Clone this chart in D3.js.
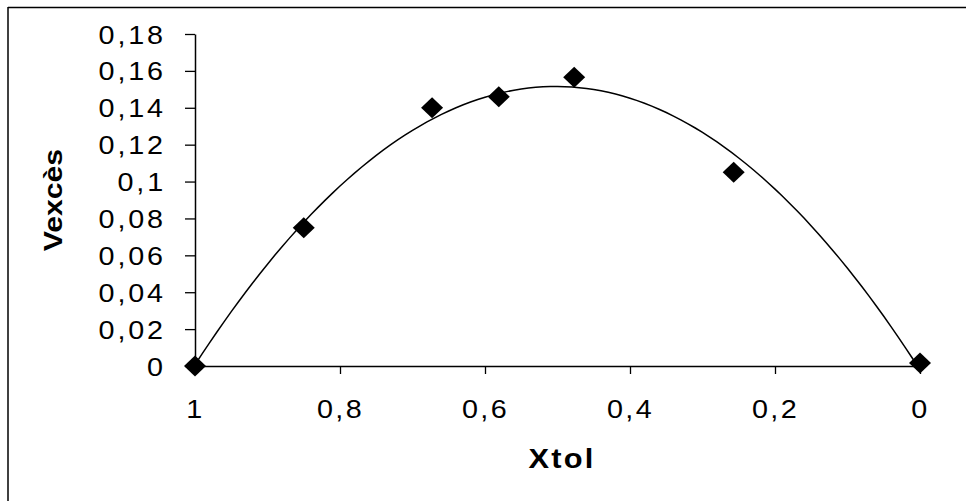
<!DOCTYPE html>
<html><head><meta charset="utf-8">
<script src="https://cdn.jsdelivr.net/npm/d3@7"></script>
<style>body{margin:0;background:#fff}svg{display:block}</style>
</head><body>
<script>
// Data
const xtol   = [1, 0.85, 0.673, 0.581, 0.477, 0.257, 0];
const vexces = [0, 0.075, 0.140, 0.146, 0.1565, 0.105, 0.0016];
const xTicks = [1, 0.8, 0.6, 0.4, 0.2, 0];
const yTicks = [0, 0.02, 0.04, 0.06, 0.08, 0.1, 0.12, 0.14, 0.16, 0.18];
const xTitle = "Xtol";
const yTitle = "Vexcès";

const W = 966, H = 501;
const FONT = "Liberation Sans, Arial, sans-serif";
const svg = d3.select("body").append("svg").attr("width", W).attr("height", H);

// outer frame (only top and left edges visible in the reference)
svg.append("line").attr("x1", 8).attr("x2", W).attr("y1", 7.5).attr("y2", 7.5).attr("stroke", "#000").attr("stroke-width", 1.5);
svg.append("line").attr("x1", 8).attr("x2", 8).attr("y1", 7).attr("y2", H).attr("stroke", "#000").attr("stroke-width", 1.5);

const x = d3.scaleLinear().domain([1, 0]).range([195, 920]);
const y = d3.scaleLinear().domain([0, 0.18]).range([366, 34]);

const fmt = d => String(d).replace(".", ",");

// Y axis
const gy = svg.append("g").attr("transform", "translate(195,0)")
  .call(d3.axisLeft(y).tickValues(yTicks).tickFormat(fmt).tickSize(10).tickSizeOuter(0));
gy.select(".domain").attr("stroke-width", 1.5);
gy.selectAll(".tick line").attr("stroke-width", 1.3);
gy.selectAll(".tick text").attr("font-family", FONT).attr("font-size", 25).attr("fill", "#000")
  .attr("letter-spacing", 2.5)
  .attr("x", 0).attr("dy", "0.36em").attr("transform", "translate(-29,0) scale(1.15,1)");

// X axis
const gx = svg.append("g").attr("transform", "translate(0,366)")
  .call(d3.axisBottom(x).tickValues(xTicks).tickFormat(fmt).tickSize(8).tickSizeOuter(0));
gx.select(".domain").attr("stroke-width", 1.5);
gx.selectAll(".tick line").attr("stroke-width", 1.3);
gx.selectAll(".tick text").attr("font-family", FONT).attr("font-size", 25).attr("fill", "#000")
  .attr("letter-spacing", 2)
  .attr("y", 0).attr("dy", 0).attr("transform", "translate(0,52) scale(1.15,1)");

// titles
svg.append("text").attr("transform", "translate(562,468) scale(1.1,1)").attr("text-anchor", "middle")
  .attr("font-family", FONT).attr("font-weight", "bold").attr("font-size", 28).attr("letter-spacing", 2).text(xTitle);
svg.append("text").attr("transform", "translate(62,200) rotate(-90) scale(1.16,1)").attr("text-anchor", "middle")
  .attr("font-family", FONT).attr("font-weight", "bold").attr("font-size", 26).text(yTitle);

// polynomial (order 2) trendline, least squares fit of the points
function polyfit2(xs, ys) {
  let S = [0,0,0,0,0], T = [0,0,0];
  xs.forEach((xi, i) => {
    for (let k = 0; k < 5; k++) S[k] += Math.pow(xi, k);
    for (let k = 0; k < 3; k++) T[k] += Math.pow(xi, k) * ys[i];
  });
  const A = [[S[0],S[1],S[2],T[0]],[S[1],S[2],S[3],T[1]],[S[2],S[3],S[4],T[2]]];
  for (let i = 0; i < 3; i++) {
    for (let j = i + 1; j < 3; j++) {
      const f = A[j][i] / A[i][i];
      for (let k = i; k < 4; k++) A[j][k] -= f * A[i][k];
    }
  }
  const c = [0,0,0];
  for (let i = 2; i >= 0; i--) {
    let s = A[i][3];
    for (let k = i + 1; k < 3; k++) s -= A[i][k] * c[k];
    c[i] = s / A[i][i];
  }
  return c;
}
const coef = polyfit2(xtol, vexces);
const curveX = d3.range(0, 1.0001, 0.01);
const line = d3.line().x(d => x(d)).y(d => y(coef[0] + coef[1]*d + coef[2]*d*d));
svg.append("path").datum(curveX).attr("d", line).attr("fill", "none").attr("stroke", "#000").attr("stroke-width", 1.5);

// diamond markers
const diamond = (cx, cy) => `M${cx},${cy-10.5}L${cx+11},${cy}L${cx},${cy+10.5}L${cx-11},${cy}Z`;
svg.append("g").selectAll("path").data(xtol).join("path")
  .attr("d", (d, i) => diamond(x(d), y(vexces[i]))).attr("fill", "#000");
</script>
</body></html>
